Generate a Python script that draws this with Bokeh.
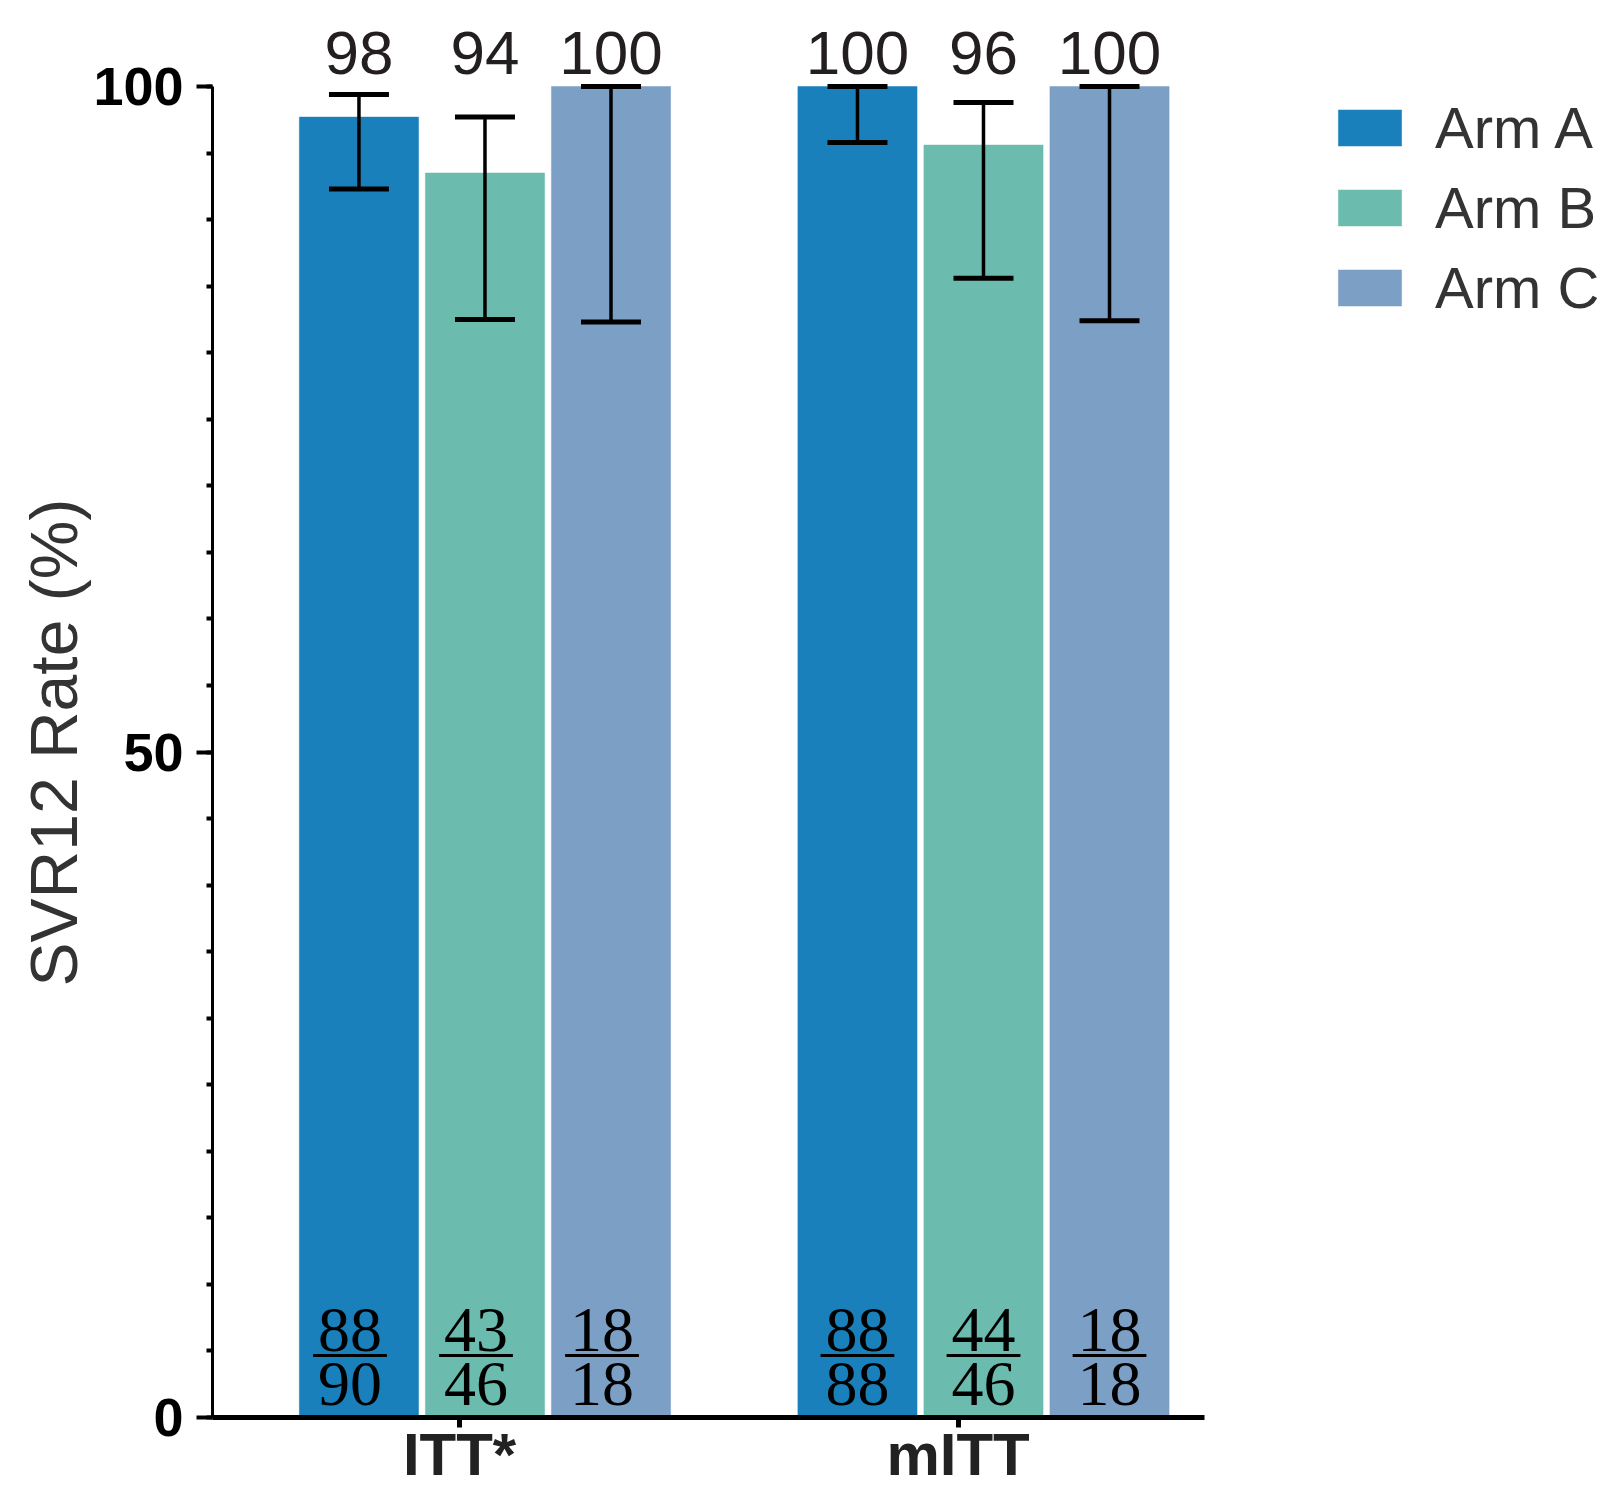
from bokeh.plotting import figure
from bokeh.models import (Range1d, FixedTicker, Legend, LegendItem, ColumnDataSource,
                          Whisker, TeeHead, Title)
from bokeh.core.properties import value
from bokeh.embed import file_html
from bokeh.resources import INLINE

# ---------------- data ----------------
groups = ["ITT*", "mITT"]
arms = ["Arm A", "Arm B", "Arm C"]
colors = ["#1A80BB", "#6BBCAE", "#7B9FC5"]

svr_itt = [97.7, 93.5, 100.0]
svr_mitt = [100.0, 95.6, 100.0]
label_itt = ["98", "94", "100"]
label_mitt = ["100", "96", "100"]
ci_low_itt = [92.3, 82.5, 82.3]
ci_high_itt = [99.4, 97.7, 100.0]
ci_low_mitt = [95.8, 85.6, 82.4]
ci_high_mitt = [100.0, 98.8, 100.0]
num_itt = ["88", "43", "18"]
den_itt = ["90", "46", "18"]
num_mitt = ["88", "44", "18"]
den_mitt = ["88", "46", "18"]

y_major = [0, 50, 100]
y_minor = list(range(0, 101, 5))

# ---------------- layout constants ----------------
bar_step = 0.2528
bar_width = 0.239
tick_shift = -0.051
frac_shift = [-0.018, 0.0]
x_start, x_end = -0.5466, 2.2337
y_end = 105.71

W, H = 1598, 1492
p = figure(width=W, height=H, output_backend="svg", toolbar_location=None,
           x_range=Range1d(x_start, x_end), y_range=Range1d(0, y_end),
           min_border_left=212, min_border_right=0, min_border_top=10,
           min_border_bottom=75)
p.outline_line_color = None
p.xgrid.visible = False
p.ygrid.visible = False
p.background_fill_color = "white"
p.border_fill_color = "white"

renderers = []
for j, arm in enumerate(arms):
    xs = [gi + (j - 1) * bar_step for gi in range(len(groups))]
    xf = [x + s for x, s in zip(xs, frac_shift)]
    tops = [svr_itt[j], svr_mitt[j]]
    src = ColumnDataSource(dict(x=xs, xf=xf, top=tops,
                                lo=[ci_low_itt[j], ci_low_mitt[j]],
                                hi=[ci_high_itt[j], ci_high_mitt[j]],
                                lab=[label_itt[j], label_mitt[j]],
                                num=[num_itt[j], num_mitt[j]],
                                den=[den_itt[j], den_mitt[j]],
                                x0=[x - 0.074 for x in xf],
                                x1=[x + 0.074 for x in xf]))
    r = p.vbar(x="x", top="top", bottom=0, width=bar_width, source=src,
               fill_color=colors[j], line_color=colors[j], line_alpha=0.5,
               line_width=1)
    renderers.append(r)
    w = Whisker(base="x", lower="lo", upper="hi", source=src, level="overlay",
                line_color="black", line_width=3.5,
                upper_head=TeeHead(size=60, line_width=5, line_color="black"),
                lower_head=TeeHead(size=60, line_width=5, line_color="black"))
    p.add_layout(w)
    # value labels above the axis top
    p.text(x="x", y=102.55, text="lab", source=src, text_align="center",
           text_baseline="middle", text_font=value("Liberation Sans"),
           text_font_size="62px", text_color="#231F20")
    # fraction n/N
    p.text(x="xf", y=6.61, text="num", source=src, text_align="center",
           text_baseline="middle", text_font=value("Liberation Serif"),
           text_font_size="64px", text_color="black")
    p.text(x="xf", y=2.48, text="den", source=src, text_align="center",
           text_baseline="middle", text_font=value("Liberation Serif"),
           text_font_size="64px", text_color="black")
    p.segment(x0="x0", x1="x1", y0=4.66, y1=4.66, source=src,
              line_color="black", line_width=3)

# ---------------- axes ----------------
yax = p.yaxis[0]
yax.ticker = FixedTicker(ticks=y_major, minor_ticks=y_minor)
yax.bounds = (0, 100)
yax.axis_line_width = 3
yax.axis_line_color = "black"
yax.major_tick_in = 0
yax.major_tick_out = 16
yax.major_tick_line_width = 4
yax.minor_tick_in = 0
yax.minor_tick_out = 6
yax.minor_tick_line_width = 4
yax.major_label_standoff = 13
yax.major_label_text_font = "Liberation Sans"
yax.major_label_text_font_style = "bold"
yax.major_label_text_font_size = "54px"
yax.major_label_text_color = "black"

p.add_layout(Title(text="SVR12 Rate (%)", align="left", offset=431, standoff=0,
                   vertical_align="bottom",
                   text_font="Liberation Sans", text_font_style="normal",
                   text_font_size="66px", text_color="#333333"), "left")

tick_x = [gi + tick_shift for gi in range(len(groups))]
xax = p.xaxis[0]
xax.ticker = FixedTicker(ticks=tick_x, minor_ticks=[])
xax.major_label_overrides = {t: g for t, g in zip(tick_x, groups)}
xax.bounds = (x_start, 1.4433)
xax.axis_line_width = 5
xax.axis_line_color = "black"
xax.major_tick_in = 0
xax.major_tick_out = 10
xax.major_tick_line_width = 5
xax.minor_tick_line_color = None
xax.major_label_standoff = -7
xax.major_label_text_font = "Liberation Sans"
xax.major_label_text_font_style = "bold"
xax.major_label_text_font_size = "60px"
xax.major_label_text_color = "#222222"

# ---------------- legend ----------------
legend = Legend(items=[LegendItem(label=a, renderers=[r]) for a, r in zip(arms, renderers)],
                location=(1118, 1096), orientation="vertical",
                glyph_width=79, glyph_height=45, label_standoff=26, spacing=13,
                padding=0, margin=0, border_line_color=None,
                background_fill_alpha=0,
                label_text_font="Liberation Sans", label_text_font_size="58px",
                label_text_color="#333333")
p.add_layout(legend)

open("out.html", "w").write(file_html(p, INLINE))
